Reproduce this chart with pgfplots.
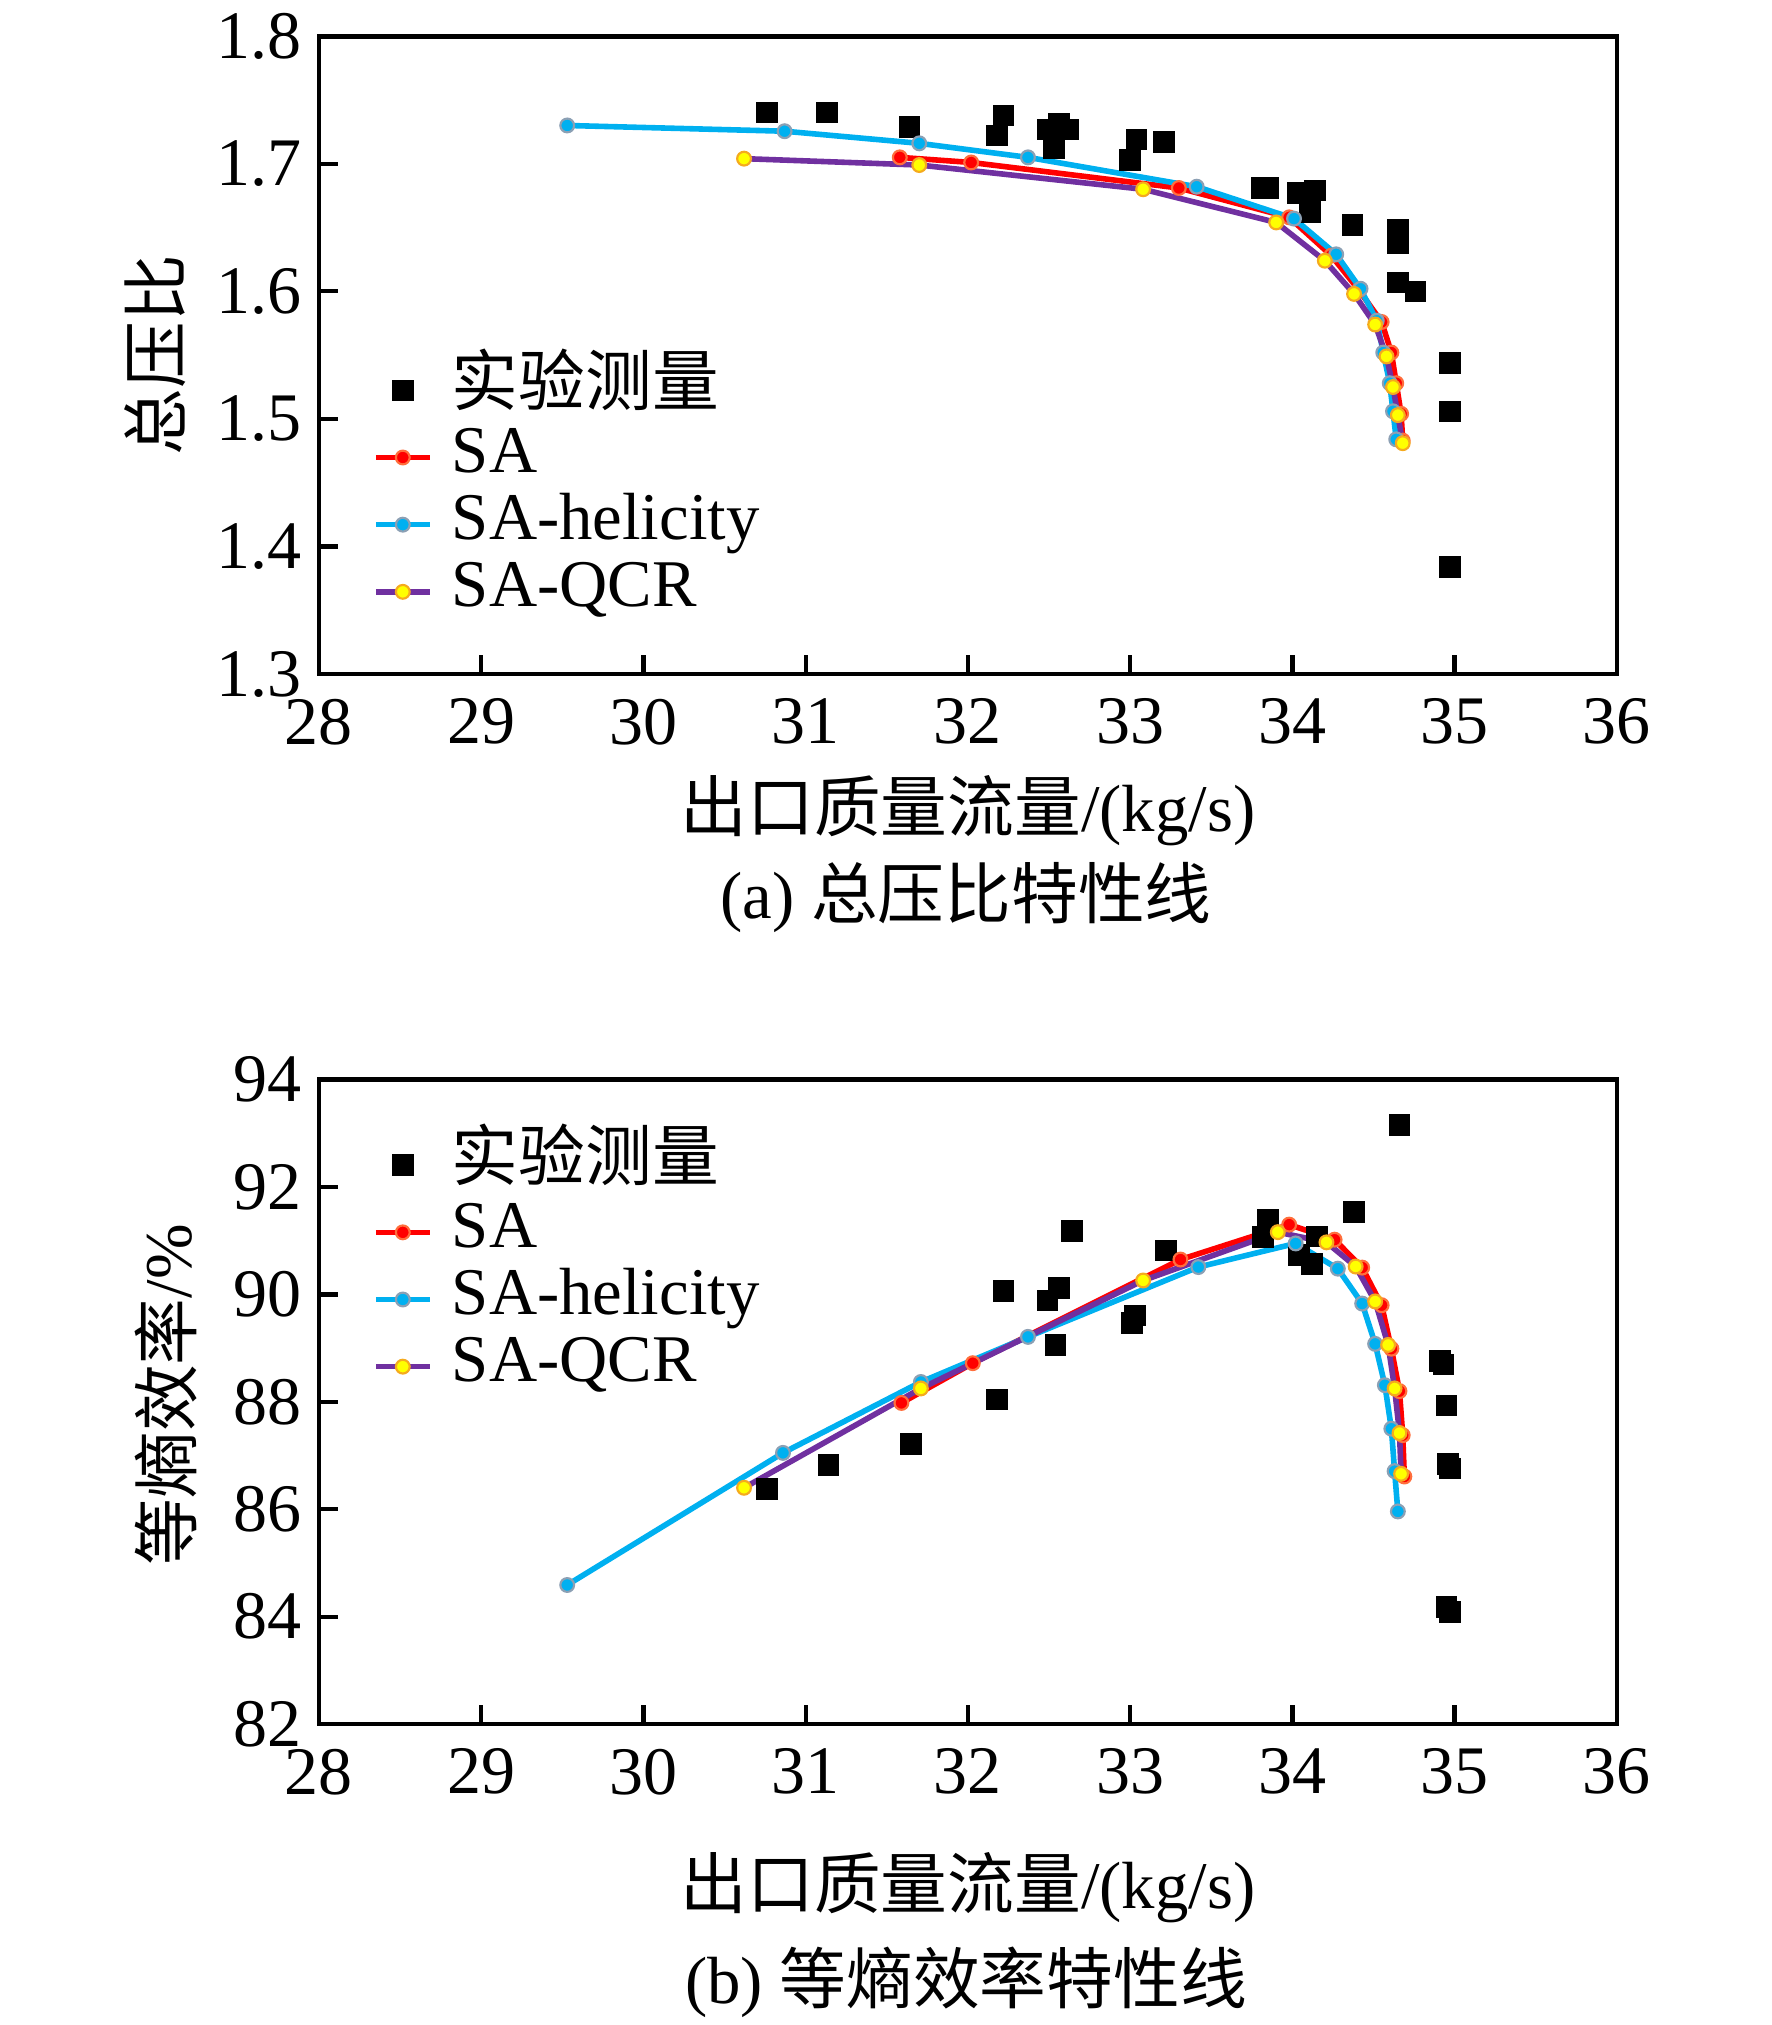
\documentclass[border=0pt]{standalone}
\usepackage{fontspec}
\setmainfont{Liberation Serif}
\newfontfamily\cjk{Noto Sans CJK SC}
\usepackage{pgfplots}
\pgfplotsset{compat=1.18}
\definecolor{cSA}{RGB}{255,0,0}
\definecolor{cSAe}{RGB}{255,110,60}
\definecolor{cHel}{RGB}{0,176,240}
\definecolor{cHele}{RGB}{140,160,180}
\definecolor{cQCR}{RGB}{112,48,160}
\definecolor{cYel}{RGB}{255,255,0}
\definecolor{cYele}{RGB}{245,170,30}
\newcommand{\fs}{\fontsize{15.5}{18}\selectfont}
\newcommand{\ft}{\fontsize{15.8}{18}\selectfont}
\pgfplotsset{
  mystyle/.style={
    anchor=south west, scale only axis, width=301.5pt,
    xmin=28, xmax=36, xtick={28,29,30,31,32,33,34,35,36},
    axis line style={line width=1.1pt}, tick style={line width=1pt, black},
    tick align=inside, tick pos=left, major tick length=4.5pt,
    /pgf/number format/assume math mode=true,
    tick label style={font=\ft},
    label style={font=\fs},
    xticklabel style={yshift=-2.2pt},
    yticklabel style={xshift=-0.5pt},
    legend cell align=left,
    legend style={draw=none, fill=none, font=\fs, inner sep=0pt, row sep=2.6pt, column sep=4.5pt,
      nodes={inner sep=0pt, text height=10pt, text depth=3pt}},
  },
  linelegend/.style={legend image code/.code={\draw[mark repeat=2,mark phase=2] plot coordinates {(0cm,0cm) (0.22cm,0cm) (0.44cm,0cm)};}},
  pSA/.style={color=cSA, line width=1.3pt, mark=*, mark size=1.6pt, mark options={fill=cSA, draw=cSAe, line width=0.5pt}, linelegend},
  pHel/.style={color=cHel, line width=1.3pt, mark=*, mark size=1.6pt, mark options={fill=cHel, draw=cHele, line width=0.5pt}, linelegend},
  pQCR/.style={color=cQCR, line width=1.3pt, mark=*, mark size=1.6pt, mark options={fill=cYel, draw=cYele, line width=0.5pt}, linelegend},
  pExp/.style={only marks, mark=square*, mark size=2.3pt, black, legend image code/.code={\draw plot coordinates {(0.22cm,0cm)};}},
}
\begin{document}
\begin{tikzpicture}
\path[use as bounding box] (0,0) rectangle (411.6pt,470.4pt);
% ---------------- (a)
\begin{axis}[mystyle, at={(74.1pt,313.8pt)}, height=148.2pt,
  ymin=1.3, ymax=1.8, ytick={1.3,1.4,1.5,1.6,1.7,1.8},
  yticklabel style={/pgf/number format/fixed, /pgf/number format/fixed zerofill, /pgf/number format/precision=1},
  xlabel={{\cjk 出口质量流量}/(kg/s)},
  xlabel style={at={(axis description cs:0.5,-0.2146)}, anchor=center},
  ylabel={\cjk 总压比},
  ylabel style={at={(axis description cs:-0.126,0.5)}, anchor=center},
  legend style={at={(axis description cs:0.041,0.490)}, anchor=north west},
]
\addplot[pExp] coordinates {
(30.76,1.740) (31.13,1.740) (31.64,1.729) (32.22,1.738) (32.18,1.722)
(32.49,1.727) (32.56,1.731) (32.62,1.727) (32.53,1.712) (33.04,1.719)
(33.21,1.717) (33.00,1.703) (33.81,1.681) (33.85,1.681) (34.03,1.677)
(34.14,1.679) (34.11,1.662) (34.37,1.652) (34.65,1.648) (34.65,1.638)
(34.65,1.607) (34.76,1.600) (34.97,1.544) (34.97,1.506) (34.97,1.384)
};
\addlegendentry{\cjk 实验测量}
\addplot[pSA] coordinates {
(31.58,1.705) (32.02,1.701) (33.30,1.681) (33.98,1.658) (34.24,1.628)
(34.41,1.601) (34.55,1.576) (34.61,1.552) (34.64,1.528) (34.67,1.504) (34.68,1.483)
};
\addlegendentry{SA}
\addplot[pHel] coordinates {
(29.53,1.730) (30.87,1.7255) (31.70,1.716) (32.37,1.705) (33.41,1.682)
(34.01,1.657) (34.27,1.629) (34.42,1.602) (34.52,1.577) (34.56,1.552)
(34.60,1.528) (34.62,1.506) (34.64,1.484)
};
\addlegendentry{SA-helicity}
\addplot[pQCR] coordinates {
(30.62,1.704) (31.70,1.699) (33.08,1.680) (33.90,1.654) (34.20,1.624)
(34.38,1.598) (34.51,1.574) (34.58,1.549) (34.62,1.525) (34.65,1.503) (34.68,1.481)
};
\addlegendentry{SA-QCR}
\end{axis}
\node[font=\fs, anchor=center] at (224.4pt,261.9pt) {(a) {\cjk 总压比特性线}};
% ---------------- (b)
\begin{axis}[mystyle, at={(74.1pt,69.9pt)}, height=149.7pt,
  ymin=82, ymax=94, ytick={82,84,86,88,90,92,94},
  xlabel={{\cjk 出口质量流量}/(kg/s)},
  xlabel style={at={(axis description cs:0.5,-0.2545)}, anchor=center},
  ylabel={{\cjk 等熵效率}/\%},
  ylabel style={at={(axis description cs:-0.118,0.511)}, anchor=center},
  legend style={at={(axis description cs:0.041,0.912)}, anchor=north west},
]
\addplot[pExp] coordinates {
(30.76,86.38) (31.14,86.82) (31.65,87.22) (32.18,88.04) (32.22,90.06)
(32.56,90.12) (32.49,89.89) (32.54,89.06) (32.64,91.18) (33.03,89.61)
(33.01,89.47) (33.22,90.82) (33.85,91.39) (33.82,91.07) (34.15,91.08)
(34.04,90.73) (34.12,90.57) (34.38,91.54) (34.66,93.16) (34.91,88.76)
(34.93,88.70) (34.95,87.93) (34.96,86.84) (34.97,86.76) (34.95,84.18) (34.97,84.09)
};
\addlegendentry{\cjk 实验测量}
\addplot[pSA] coordinates {
(31.59,87.98) (32.03,88.72) (33.31,90.65) (33.98,91.30) (34.26,91.02)
(34.43,90.50) (34.55,89.80) (34.61,88.99) (34.66,88.20) (34.68,87.38) (34.69,86.61)
};
\addlegendentry{SA}
\addplot[pHel] coordinates {
(29.53,84.59) (30.86,87.05) (31.71,88.37) (32.37,89.21) (33.42,90.51)
(34.02,90.95) (34.28,90.48) (34.43,89.83) (34.51,89.08) (34.57,88.31)
(34.61,87.50) (34.63,86.71) (34.65,85.96)
};
\addlegendentry{SA-helicity}
\addplot[pQCR] coordinates {
(30.62,86.40) (31.71,88.25) (33.08,90.26) (33.91,91.16) (34.21,90.97)
(34.39,90.52) (34.51,89.87) (34.59,89.06) (34.63,88.25) (34.66,87.42) (34.67,86.66)
};
\addlegendentry{SA-QCR}
\end{axis}
\node[font=\fs, anchor=center] at (224.4pt,9.9pt) {(b) {\cjk 等熵效率特性线}};
\end{tikzpicture}
\end{document}
